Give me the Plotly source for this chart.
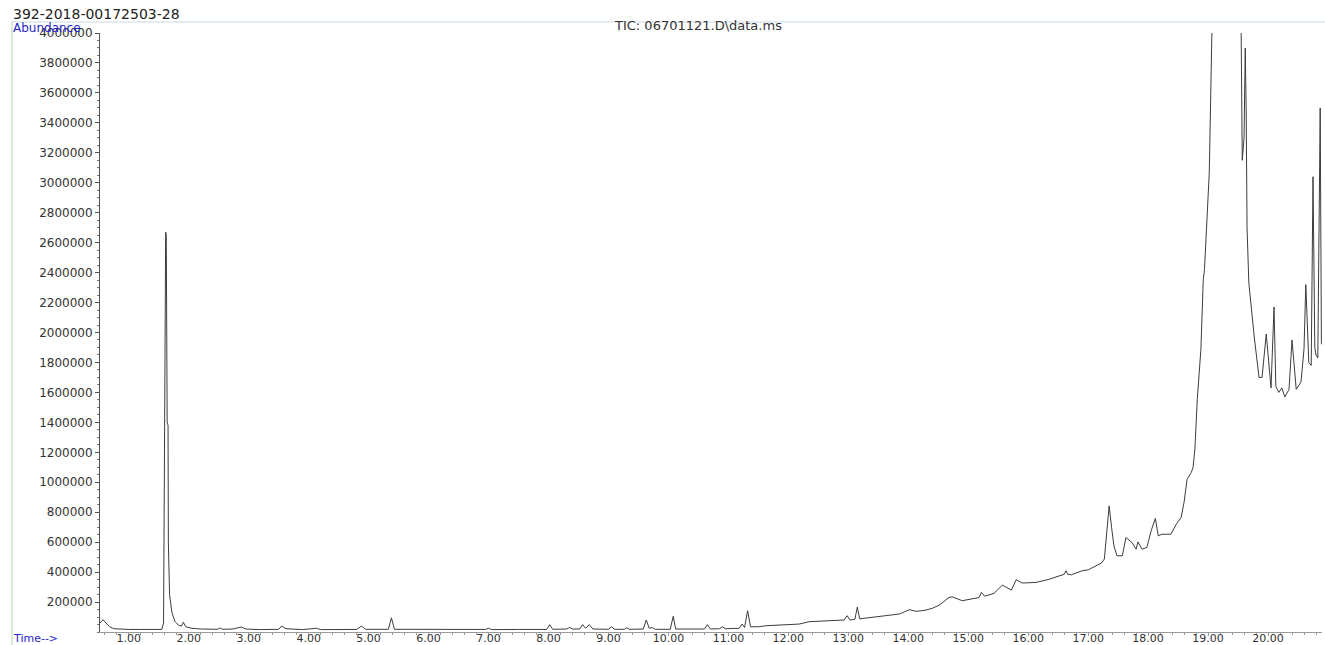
import plotly.graph_objects as go

# ---- data (time in min, abundance) ----
TIME = [0.52, 0.57, 0.62, 0.68, 0.75, 0.85, 1.00, 1.20, 1.40, 1.55,
        1.58, 1.60, 1.615, 1.625, 1.64, 1.655, 1.66, 1.68, 1.72, 1.77,
        1.83, 1.88, 1.91, 1.95, 2.05, 2.20, 2.48, 2.52, 2.56, 2.73,
        2.88, 2.95, 3.20, 3.50, 3.55, 3.62, 3.90, 4.13, 4.20, 4.80,
        4.88, 4.95, 5.33, 5.38, 5.43, 6.00, 6.50, 6.95, 7.00, 7.05,
        7.50, 7.97, 8.02, 8.07, 8.30, 8.35, 8.40, 8.52, 8.57, 8.62,
        8.68, 8.74, 9.00, 9.05, 9.10, 9.27, 9.30, 9.35, 9.58, 9.63,
        9.68, 9.73, 9.78, 10.03, 10.08, 10.12, 10.60, 10.65, 10.70, 10.85,
        10.90, 10.95, 11.18, 11.23, 11.27, 11.32, 11.37, 11.50, 11.63, 11.80,
        12.00, 12.18, 12.35, 12.50, 12.73, 12.93, 12.98, 13.03, 13.11, 13.15,
        13.19, 13.43, 13.60, 13.85, 14.02, 14.13, 14.28, 14.40, 14.52, 14.68,
        14.73, 14.90, 15.07, 15.18, 15.22, 15.27, 15.30, 15.43, 15.57, 15.72,
        15.80, 15.90, 16.13, 16.35, 16.52, 16.60, 16.63, 16.66, 16.72, 16.90,
        17.00, 17.13, 17.22, 17.27, 17.31, 17.35, 17.39, 17.43, 17.48, 17.57,
        17.63, 17.73, 17.80, 17.83, 17.90, 17.98, 18.05, 18.12, 18.17, 18.23,
        18.38, 18.47, 18.55, 18.60, 18.65, 18.72, 18.75, 18.78, 18.82, 18.88,
        18.92, 18.94, 19.02, 19.05, 19.12, 19.30, 19.45, 19.55, 19.57, 19.60,
        19.62, 19.635, 19.65, 19.68, 19.77, 19.85, 19.90, 19.97, 20.02, 20.05,
        20.10, 20.13, 20.18, 20.23, 20.28, 20.35, 20.40, 20.47, 20.55, 20.60,
        20.63, 20.68, 20.72, 20.75, 20.78, 20.80, 20.83, 20.87, 20.89, 20.90]

ABUNDANCE = [60000, 82000, 60000, 35000, 22000, 18000, 17000, 17000, 16000, 17000,
             60000, 1200000, 2670000, 2650000, 1400000, 1380000, 600000, 250000, 130000, 70000,
             45000, 40000, 65000, 35000, 25000, 20000, 18000, 27000, 18000, 20000,
             33000, 20000, 16000, 18000, 40000, 22000, 16000, 25000, 16000, 17000,
             40000, 18000, 18000, 95000, 18000, 16000, 16000, 17000, 25000, 16000,
             17000, 17000, 49000, 18000, 20000, 30000, 20000, 20000, 49000, 25000,
             49000, 20000, 18000, 35000, 18000, 18000, 28000, 18000, 20000, 80000,
             25000, 30000, 18000, 18000, 105000, 20000, 20000, 49000, 20000, 22000,
             35000, 22000, 25000, 53000, 30000, 142000, 35000, 35000, 42000, 45000,
             48000, 53000, 69000, 72000, 76000, 80000, 109000, 80000, 85000, 166000,
             88000, 102000, 108000, 120000, 149000, 138000, 145000, 158000, 180000, 231000,
             235000, 209000, 220000, 230000, 265000, 240000, 242000, 258000, 313000, 280000,
             349000, 327000, 331000, 352000, 375000, 385000, 409000, 385000, 382000, 409000,
             415000, 440000, 460000, 487000, 650000, 842000, 700000, 575000, 509000, 509000,
             631000, 598000, 553000, 602000, 553000, 565000, 675000, 758000, 642000, 653000,
             653000, 720000, 765000, 867000, 1020000, 1065000, 1100000, 1220000, 1553000, 1887000,
             2353000, 2420000, 3067000, 4020000, 5200000, 6500000, 5600000, 4100000, 3150000, 3300000,
             3900000, 3500000, 2700000, 2330000, 1970000, 1700000, 1700000, 1990000, 1730000, 1630000,
             2170000, 1640000, 1600000, 1630000, 1570000, 1620000, 1950000, 1620000, 1670000, 1890000,
             2320000, 1800000, 1780000, 3040000, 1900000, 1850000, 1830000, 3500000, 1930000, 1920000]

YTICK_VALUES = [200000 * i for i in range(1, 21)]
YTICK_LABELS = [str(v) for v in YTICK_VALUES]
XTICK_VALUES = list(range(1, 21))
XTICK_LABELS = ["%.2f" % v for v in XTICK_VALUES]

TITLE = "392-2018-00172503-28"
SUBTITLE = "TIC: 06701121.D\\data.ms"
Y_LABEL = "Abundance"
X_LABEL = "Time-->"

W, H = 1325, 645
ML, MR, MT, MB = 100, 3, 33, 13
PW, PH = W - ML - MR, H - MT - MB


def px(xp):
    return (xp - ML) / PW


def py(yp):
    return (H - MB - yp) / PH


FONT = "DejaVu Sans"
fig = go.Figure()
fig.add_trace(go.Scatter(x=TIME, y=ABUNDANCE, mode="lines",
                         line=dict(color="#3c3c3c", width=1),
                         hoverinfo="x+y", showlegend=False))

fig.update_layout(
    width=W, height=H,
    margin=dict(l=ML, r=MR, t=MT, b=MB, pad=0, autoexpand=False),
    paper_bgcolor="white", plot_bgcolor="white",
    font=dict(family=FONT, color="#333333"),
    xaxis=dict(range=[0.52, 20.9], tickvals=XTICK_VALUES, ticktext=XTICK_LABELS,
               automargin=False, ticklabelstandoff=-7,
               showgrid=False, zeroline=False, showline=True, linecolor="#9a9a9a",
               linewidth=1, ticks="outside", ticklen=3, tickcolor="#9a9a9a",
               tickfont=dict(size=11, family=FONT, color="#333333"),
               minor=dict(dtick=0.2, tick0=0, ticks="outside", ticklen=2,
                          tickcolor="#9a9a9a", showgrid=False)),
    yaxis=dict(range=[0, 4000000], tickvals=YTICK_VALUES, ticktext=YTICK_LABELS,
               automargin=False,
               showgrid=False, zeroline=False, showline=True, linecolor="#555555",
               linewidth=1, ticks="outside", ticklen=4, tickcolor="#555555",
               tickfont=dict(size=12, family=FONT, color="#333333"),
               minor=dict(dtick=50000, tick0=0, ticks="outside", ticklen=2,
                          tickcolor="#777777", showgrid=False)),
    annotations=[
        dict(text=TITLE, xref="paper", yref="paper", x=px(11), y=py(14),
             xanchor="left", yanchor="middle", showarrow=False,
             font=dict(size=14, family=FONT, color="#222222")),
        dict(text=Y_LABEL, xref="paper", yref="paper", x=px(11), y=py(27.5),
             xanchor="left", yanchor="middle", showarrow=False,
             font=dict(size=12, family=FONT, color="#1f1fc8")),
        dict(text=SUBTITLE, xref="paper", yref="paper", x=px(612), y=py(25.5),
             xanchor="left", yanchor="middle", showarrow=False,
             font=dict(size=13, family=FONT, color="#333333")),
        dict(text=X_LABEL, xref="paper", yref="paper", x=px(11), y=py(638),
             xanchor="left", yanchor="middle", showarrow=False,
             font=dict(size=11, family=FONT, color="#1f1fc8")),
    ],
    shapes=[
        dict(type="line", xref="paper", yref="paper", x0=px(12), x1=px(12),
             y0=py(22), y1=py(645), line=dict(color="#c6e8c6", width=1.5), layer="below"),
        dict(type="line", xref="paper", yref="paper", x0=px(12), x1=px(1325),
             y0=py(22), y1=py(22), line=dict(color="#dbe6ec", width=1.5), layer="below"),
    ],
)

fig.write_html("out.html", config={"displayModeBar": False},
               post_script="document.body.style.margin='0';document.body.style.overflow='hidden';")
